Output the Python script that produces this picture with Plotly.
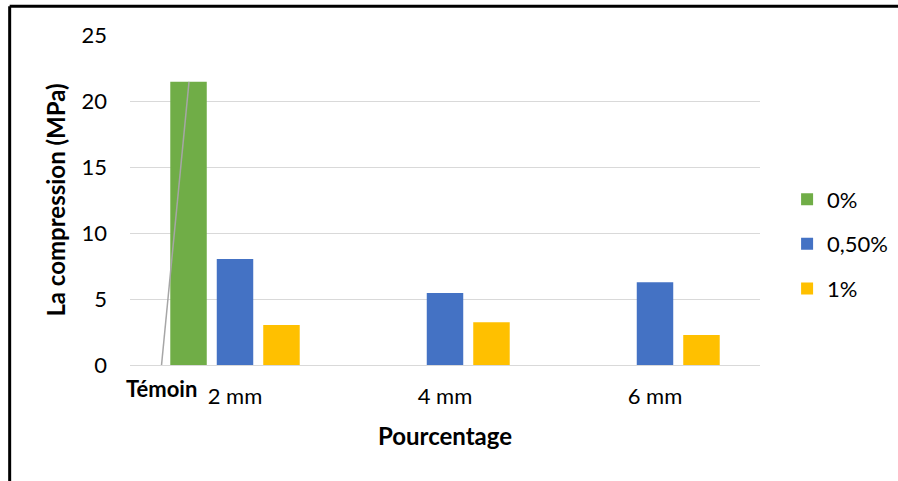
import plotly.graph_objects as go

categories = ["2 mm", "4 mm", "6 mm"]
series_names = ["0%", "0,50%", "1%"]
values_0 = [21.45, None, None]
values_050 = [8.03, 5.45, 6.26]
values_1 = [3.03, 3.23, 2.28]
colors = ["#70AD47", "#4472C4", "#FFC000"]
y_ticks = [0, 5, 10, 15, 20, 25]

FONT = "Lato"

fig = go.Figure()
for i, (name, vals) in enumerate(zip(series_names, [values_0, values_050, values_1])):
    fig.add_trace(go.Bar(
        x=categories, y=vals, name=name,
        marker=dict(color=colors[i], line=dict(width=0)),
        legendgroup=name,
    ))

# grey pointer line from the "Témoin" label to the 0% bar
fig.add_shape(type="line", xref="x", yref="y",
              x0=-0.352, y0=-0.36, x1=-0.219, y1=values_0[0],
              line=dict(color="#A6A6A6", width=1.5))

# frame (top and left)
fig.add_shape(type="line", xref="paper", yref="paper",
              x0=-0.191, y0=1.0868, x1=1.3, y1=1.0868,
              line=dict(color="black", width=3))
fig.add_shape(type="line", xref="paper", yref="paper",
              x0=-0.191, y0=1.0868, x1=-0.191, y1=-0.5,
              line=dict(color="black", width=3))

fig.add_annotation(text="<b>Témoin</b>", xref="x", yref="paper",
                   x=-0.35, y=-0.0717, showarrow=False,
                   xanchor="center", yanchor="middle",
                   font=dict(family=FONT, size=22, color="black"))

fig.update_layout(
    width=898, height=481,
    margin=dict(l=130, r=138, t=35, b=116, autoexpand=False),
    paper_bgcolor="white", plot_bgcolor="white",
    barmode="group", bargap=0.336, bargroupgap=0.215,
    font=dict(family=FONT, size=22, color="black"),
    showlegend=True,
    legend=dict(x=1.043, y=0.367, xanchor="left", yanchor="middle",
                font=dict(family=FONT, size=22, color="black"),
                tracegroupgap=13, bgcolor="rgba(0,0,0,0)"),
    xaxis=dict(
        range=[-0.5, 2.5], autorange=False,
        showgrid=False, showline=False, ticks="",
        ticklabelstandoff=16,
        tickfont=dict(family=FONT, size=22, color="black"),
        title=dict(text="<b>Pourcentage</b>", standoff=20,
                   font=dict(family=FONT, size=24, color="black")),
    ),
    yaxis=dict(
        range=[0, 25], tickvals=y_ticks,
        showgrid=True, gridcolor="#D9D9D9", gridwidth=1.3,
        zeroline=True, zerolinecolor="#D9D9D9", zerolinewidth=1.3,
        showline=False, ticks="", ticklabelstandoff=22,
        tickfont=dict(family=FONT, size=22, color="black"),
        title=dict(text="<b>La compression (MPa)</b>", standoff=9,
                   font=dict(family=FONT, size=24, color="black")),
    ),
)

fig.write_html("out.html",
               config={"displayModeBar": False},
               post_script="document.body.style.margin='0';document.body.style.overflow='hidden';")
